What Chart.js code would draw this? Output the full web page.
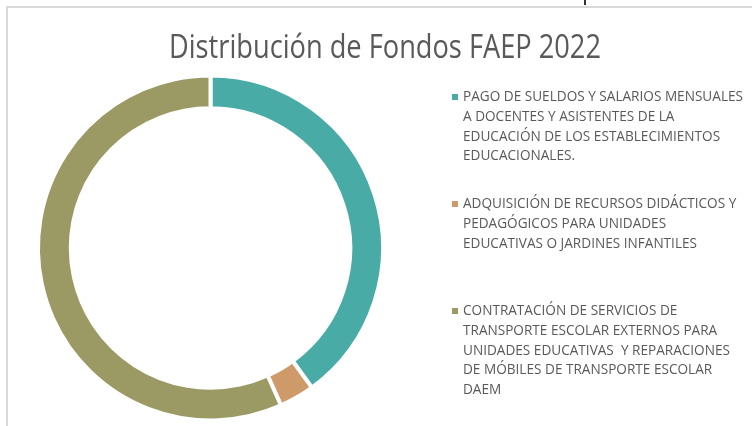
<!DOCTYPE html>
<html>
<head>
<meta charset="utf-8">
<script src="https://cdn.jsdelivr.net/npm/chart.js@4"></script>
<style>
  html, body { margin: 0; padding: 0; background: #fff; }
  #wrap { position: relative; width: 752px; height: 426px; overflow: hidden; }
  #frame { position: absolute; left: 6px; top: 6px; right: -4px; bottom: -4px;
           border-top: 2px solid #d9d9d9; border-left: 2px solid #d9d9d9; }
  #tick { position: absolute; left: 584px; top: 0; width: 2px; height: 5px; background: #333; }
  canvas { position: absolute; left: 0; top: 0; }
</style>
</head>
<body>
<div id="wrap">
  <div id="frame"></div>
  <div id="tick"></div>
  <canvas id="chart-faep" width="752" height="426"></canvas>
</div>
<script>
// Distribución de Fondos FAEP 2022 (porcentaje por línea de gasto)
const chartTitle = "Distribución de Fondos FAEP 2022";

const categories = [
  ["PAGO DE SUELDOS Y SALARIOS MENSUALES", "A DOCENTES Y ASISTENTES DE LA",
   "EDUCACIÓN DE LOS ESTABLECIMIENTOS", "EDUCACIONALES."],
  ["ADQUISICIÓN DE RECURSOS DIDÁCTICOS Y", "PEDAGÓGICOS PARA UNIDADES",
   "EDUCATIVAS O JARDINES INFANTILES"],
  ["CONTRATACIÓN DE SERVICIOS DE", "TRANSPORTE ESCOLAR EXTERNOS PARA",
   "UNIDADES EDUCATIVAS  Y REPARACIONES", "DE MÓBILES DE TRANSPORTE ESCOLAR", "DAEM"],
];
const shares = [40.0, 3.3, 56.7];
const colors = ["#48aba6", "#cf9a69", "#9b9a64"];

const TEXT_COLOR = "#595959";
const FONT = "'Open Sans', 'DejaVu Sans', sans-serif";

/** 제목 + 오른쪽 범례 직접 그리기 */
const titleLegendPlugin = {
  id: "titleLegend",
  afterDraw(chart) {
    const ctx = chart.ctx;
    ctx.save();
    ctx.fillStyle = TEXT_COLOR;
    ctx.textBaseline = "middle";

    // title, squeezed to a Calibri-like width
    ctx.font = `33px ${FONT}`;
    const tw = ctx.measureText(chartTitle).width;
    const titleW = 432;
    ctx.save();
    ctx.translate(385 - titleW / 2, 49);
    ctx.scale(titleW / tw, 1);
    ctx.textAlign = "left";
    ctx.fillText(chartTitle, 0, 0);
    ctx.restore();

    // legend
    ctx.font = `14px ${FONT}`;
    const refW = ctx.measureText(categories[0][0]).width;
    const sx = 280 / refW;
    const starts = [97, 204, 311];
    const lineH = 19.8;
    categories.forEach((lines, i) => {
      ctx.fillStyle = colors[i];
      ctx.fillRect(452, starts[i] - 3, 6, 6);
      ctx.fillStyle = TEXT_COLOR;
      lines.forEach((txt, j) => {
        ctx.save();
        ctx.translate(463, starts[i] + j * lineH);
        ctx.scale(sx, 1);
        ctx.fillText(txt, 0, 0);
        ctx.restore();
      });
    });
    ctx.restore();
  },
};

const ctx = document.getElementById("chart-faep").getContext("2d");
new Chart(ctx, {
  type: "doughnut",
  data: {
    labels: categories.map((c) => c.join(" ")),
    datasets: [
      {
        data: shares,
        backgroundColor: colors,
        borderColor: "#ffffff",
        borderWidth: 4,
      },
    ],
  },
  options: {
    responsive: false,
    animation: false,
    cutout: "81%",
    layout: {
      padding: { left: 36, top: 73, right: 367, bottom: 3 },
    },
    plugins: {
      legend: { display: false },
      title: { display: false },
      tooltip: { enabled: false },
    },
  },
  plugins: [titleLegendPlugin],
});
</script>
</body>
</html>
